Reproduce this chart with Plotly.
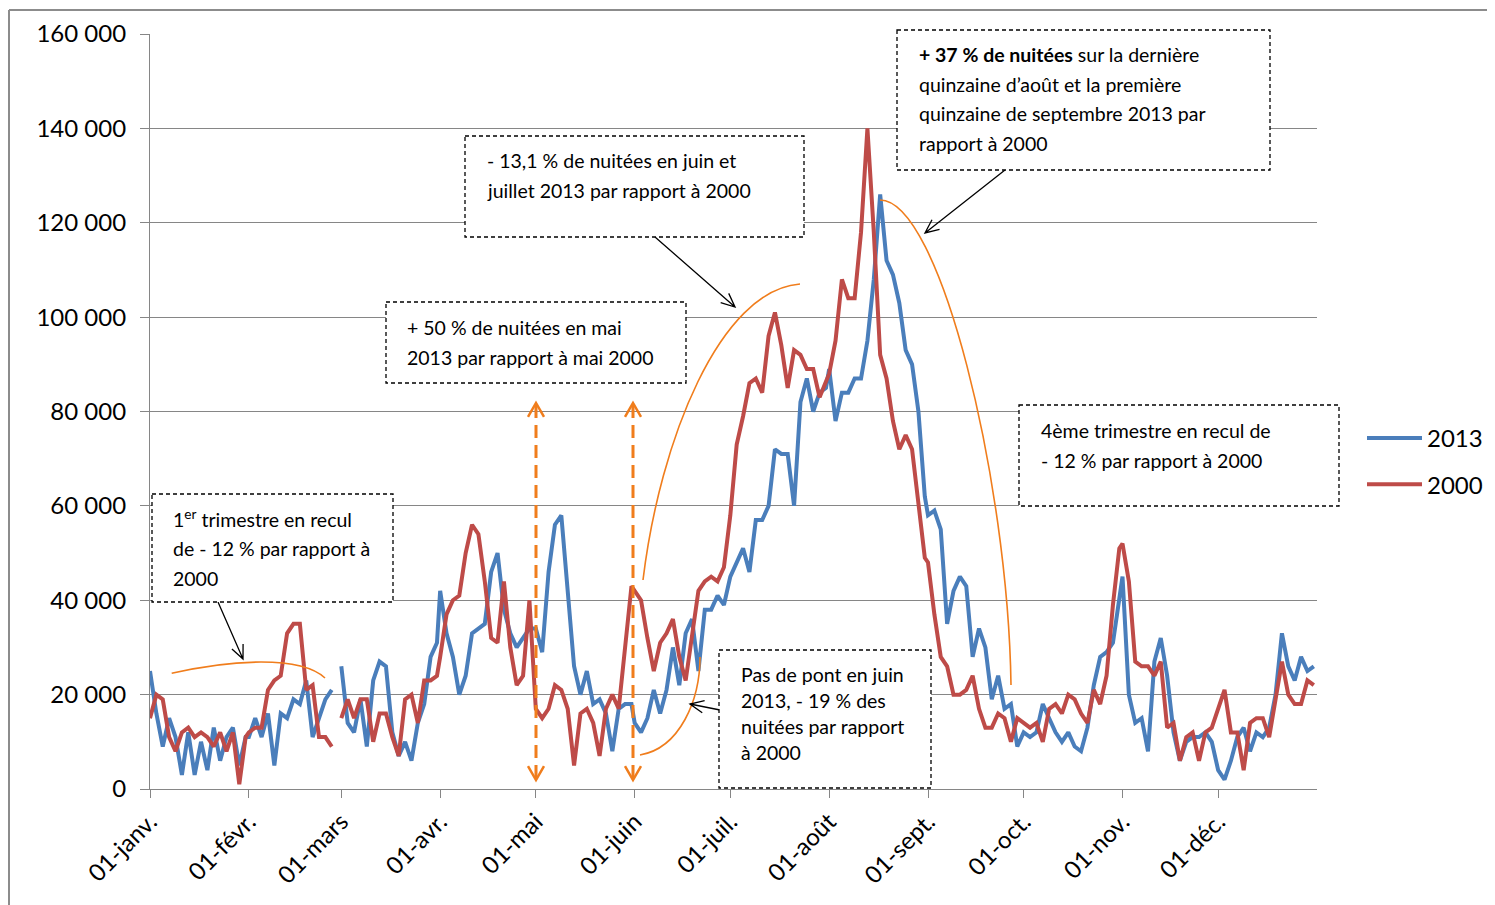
import math
import pandas as pd
import plotly.graph_objects as go

# ---------------- data (nuitées, one value every 2 days, odd days of the month) ----------------
months = ["janv.", "févr.", "mars", "avr.", "mai", "juin", "juil.", "août", "sept.", "oct.", "nov.", "déc."]
month_len = [31, 28, 31, 30, 31, 30, 31, 31, 30, 31, 30, 31]   # 29 févr. missing in the source

v2013_jan = [25000, 16000, 9000, 15000, 11000, 3000, 12000, 3000, 10000, 4000, 13000, 6000, 11000, 13000, 5000, 11000]
v2013_feb = [11000, 15000, 11000, 16000, 5000, 16000, 15000, 19000, 18000, 23000, 11000, 15000, 19000, 21000]
v2013_mar = [26000, 14000, 12000, 19000, 9000, 23000, 27000, 26000, 12000, 7000, 10000, 6000, 14000, 18000, 28000, 31000]
v2013_apr = [42000, 33000, 28000, 20000, 24000, 33000, 34000, 35000, 46000, 50000, 38000, 33000, 30000, 32000, 34000]
v2013_may = [34000, 29000, 46000, 56000, 58000, 42000, 26000, 20000, 25000, 18000, 19000, 16000, 8000, 17000, 18000, 18000]
v2013_jun = [14000, 12000, 15000, 21000, 16000, 21000, 30000, 22000, 33000, 36000, 25000, 38000, 38000, 41000, 39000]
v2013_jul = [45000, 48000, 51000, 46000, 57000, 57000, 60000, 72000, 71000, 71000, 60000, 82000, 87000, 80000, 84000, 85000]
v2013_aug = [89000, 78000, 84000, 84000, 87000, 87000, 95000, 108000, 126000, 112000, 109000, 103000, 93000, 90000, 80000, 62000]
v2013_sep = [58000, 59000, 55000, 35000, 42000, 45000, 43000, 28000, 34000, 30000, 19000, 24000, 17000, 18000, 9000]
v2013_oct = [12000, 11000, 12000, 18000, 15000, 12000, 10000, 12000, 9000, 8000, 13000, 22000, 28000, 29000, 31000, 40000]
v2013_nov = [45000, 20000, 14000, 15000, 8000, 27000, 32000, 24000, 12000, 6000, 10000, 11000, 11000, 12000, 10000]
v2013_dec = [4000, 2000, 6000, 11000, 13000, 8000, 12000, 11000, 13000, 20000, 33000, 26000, 23000, 28000, 25000, 26000]

v2000_jan = [15000, 20000, 19000, 11000, 8000, 12000, 13000, 11000, 12000, 11000, 9000, 12000, 8000, 12000, 1000, 11000]
v2000_feb = [12000, 13000, 13000, 21000, 23000, 24000, 33000, 35000, 35000, 21000, 22000, 11000, 11000, 9000]
v2000_mar = [15000, 19000, 15000, 19000, 19000, 10000, 16000, 16000, 11000, 7000, 19000, 20000, 14000, 23000, 23000, 24000]
v2000_apr = [28000, 37000, 40000, 41000, 50000, 56000, 54000, 44000, 32000, 31000, 44000, 30000, 22000, 24000, 40000]
v2000_may = [17000, 15000, 17000, 22000, 21000, 17000, 5000, 16000, 17000, 14000, 7000, 17000, 20000, 17000, 30000, 43000]
v2000_jun = [42000, 40000, 32000, 25000, 31000, 33000, 36000, 28000, 23000, 33000, 42000, 44000, 45000, 44000, 47000]
v2000_jul = [58000, 73000, 79000, 86000, 87000, 84000, 96000, 101000, 94000, 85000, 93000, 92000, 89000, 89000, 83000, 86000]
v2000_aug = [88000, 95000, 108000, 104000, 104000, 118000, 140000, 118000, 92000, 87000, 78000, 72000, 75000, 72000, 60000, 49000]
v2000_sep = [48000, 37000, 28000, 26000, 20000, 20000, 21000, 24000, 17000, 13000, 13000, 16000, 15000, 10000, 15000]
v2000_oct = [14000, 13000, 14000, 10000, 17000, 18000, 16000, 20000, 19000, 16000, 14000, 21000, 18000, 24000, 39000, 51000]
v2000_nov = [52000, 44000, 27000, 26000, 26000, 24000, 27000, 13000, 14000, 6000, 11000, 12000, 6000, 12000, 13000]
v2000_dec = [17000, 21000, 12000, 12000, 4000, 14000, 15000, 15000, 11000, 19000, 27000, 20000, 18000, 18000, 23000, 22000]

y_tickvals = [0, 20000, 40000, 60000, 80000, 100000, 120000, 140000, 160000]
y_ticktext = ["0", "20 000", "40 000", "60 000", "80 000", "100 000", "120 000", "140 000", "160 000"]

s2013 = [v2013_jan, v2013_feb, v2013_mar, v2013_apr, v2013_may, v2013_jun,
         v2013_jul, v2013_aug, v2013_sep, v2013_oct, v2013_nov, v2013_dec]
s2000 = [v2000_jan, v2000_feb, v2000_mar, v2000_apr, v2000_may, v2000_jun,
         v2000_jul, v2000_aug, v2000_sep, v2000_oct, v2000_nov, v2000_dec]


def build(series):
    xs, ys = [], []
    for m, vals in enumerate(series):
        days = list(range(1, month_len[m] + 1, 2))
        for d, v in zip(days, vals):
            xs.append(f"2000-{m + 1:02d}-{d:02d}")
            ys.append(v)
        if m == 1:  # gap (29 févr.)
            xs.append("2000-02-29")
            ys.append(None)
    return xs, ys


x13, y13 = build(s2013)
x00, y00 = build(s2000)

BLUE = "#4A7EBB"
RED = "#BE4B48"
ORANGE = "#F07D1C"
GRID = "#868686"
FONT = "Lato"

fig = go.Figure()
fig.add_trace(go.Scatter(x=x13, y=y13, mode="lines", name="2013", legendgroup="a",
                         line=dict(color=BLUE, width=4), connectgaps=False))
fig.add_trace(go.Scatter(x=x00, y=y00, mode="lines", name="2000", legendgroup="b",
                         line=dict(color=RED, width=4), connectgaps=False))

# ---------------- layout geometry (screen pixels; page body has an 8px margin) ----------------
OFF = 8
W, H = 1495 - OFF, 905 - OFF
L, R, T, B = 150, 1317, 34, 789


def px(x):
    return (x - L) / (R - L)


def py(y):
    return (B - y) / (B - T)


def P(x, y):
    return f"{px(x):.5f},{py(y):.5f}"


shapes = []
annotations = []

# outer frame
shapes.append(dict(type="line", xref="paper", yref="paper", x0=px(9), x1=px(9), y0=py(10), y1=py(910),
                   line=dict(color="#8C8C8C", width=2), layer="above"))
shapes.append(dict(type="line", xref="paper", yref="paper", x0=px(9), x1=px(1500), y0=py(10), y1=py(10),
                   line=dict(color="#8C8C8C", width=2), layer="above"))


def vhead(tx, ty, fx, fy, length, ang):
    dx, dy = fx - tx, fy - ty
    n = math.hypot(dx, dy)
    ux, uy = dx / n, dy / n
    a = math.radians(ang)
    p1 = (tx + length * (ux * math.cos(a) - uy * math.sin(a)), ty + length * (ux * math.sin(a) + uy * math.cos(a)))
    p2 = (tx + length * (ux * math.cos(-a) - uy * math.sin(-a)), ty + length * (ux * math.sin(-a) + uy * math.cos(-a)))
    return f"M{P(*p1)} L{P(tx, ty)} L{P(*p2)}"


def arrow(x1, y1, x2, y2, color="black", width=1.3):
    path = f"M{P(x1, y1)} L{P(x2, y2)} " + vhead(x2, y2, x1, y1, 15, 24)
    shapes.append(dict(type="path", xref="paper", yref="paper", path=path,
                       line=dict(color=color, width=width), layer="above"))


# orange curves
curves = [
    [(171.7, 673.3), (230, 660), (300, 655), (325, 678)],
    [(643, 580), (660, 440), (720, 290), (800, 284)],
    [(880, 200), (940, 200), (1008, 480), (1011, 685)],
    [(640, 755), (680, 748), (700, 700), (700, 657)],
]
for c in curves:
    path = f"M{P(*c[0])} C{P(*c[1])} {P(*c[2])} {P(*c[3])}"
    shapes.append(dict(type="path", xref="paper", yref="paper", path=path,
                       line=dict(color=ORANGE, width=1.6), layer="above"))

# orange dashed double arrows (1 mai, 1 juin)
for xv in [536, 633]:
    shapes.append(dict(type="line", xref="paper", yref="paper", x0=px(xv), x1=px(xv), y0=py(405), y1=py(778),
                       line=dict(color=ORANGE, width=3, dash="13px,7px"), layer="above"))
    for (tx, ty, fy) in [(xv, 403, 430), (xv, 780, 750)]:
        shapes.append(dict(type="path", xref="paper", yref="paper", path=vhead(tx, ty, tx, fy, 16, 30),
                           line=dict(color=ORANGE, width=2.5), layer="above"))

# black arrows
arrow(218, 602, 243, 659)
arrow(655, 237, 735, 307)
arrow(1005, 170, 925, 233)
arrow(720, 710, 690, 704)

# boxes with texts
boxes = [
    ((152, 494, 393, 602), 171, [518, 548, 578],
     ["1<sup>er</sup> trimestre en recul", "de - 12 % par rapport à", "2000"]),
    ((465, 136, 804, 237), 485, [160, 190],
     ["- 13,1 % de nuitées en juin et", "juillet 2013 par rapport à 2000"]),
    ((386, 302, 686, 383), 405, [327, 357],
     ["+ 50 % de nuitées en mai", "2013 par rapport à mai 2000"]),
    ((897, 30, 1270, 170), 917, [54, 84, 114, 144],
     ["<b>+ 37 % de nuitées</b> sur la dernière", "quinzaine d’août et la première",
      "quinzaine de septembre 2013 par", "rapport à 2000"]),
    ((1019, 405, 1339, 506), 1039, [430, 460],
     ["4ème trimestre en recul de", "- 12 % par rapport à 2000"]),
    ((719, 650, 931, 788), 739, [674, 700, 726, 752],
     ["Pas de pont en juin", "2013, - 19 % des", "nuitées par rapport", "à 2000"]),
]
for (x0, y0, x1, y1), tx, tys, lines in boxes:
    shapes.append(dict(type="rect", xref="paper", yref="paper", x0=px(x0), x1=px(x1), y0=py(y0), y1=py(y1),
                       line=dict(color="black", width=1.3, dash="4px,3px"), fillcolor="white", layer="above"))
    for ty, t in zip(tys, lines):
        annotations.append(dict(xref="paper", yref="paper", x=px(tx), y=py(ty), text=t, showarrow=False,
                                xanchor="left", yanchor="middle", align="left",
                                font=dict(family=FONT, size=19.5, color="black")))

month_ticks = [f"2000-{m + 1:02d}-01" for m in range(12)]
month_text = [f"01-{m}" for m in months]

fig.update_layout(
    width=W, height=H, autosize=False,
    margin=dict(l=L - OFF, r=W - (R - OFF), t=T - OFF, b=H - (B - OFF), autoexpand=False),
    paper_bgcolor="white", plot_bgcolor="white",
    font=dict(family=FONT, size=24, color="black"),
    showlegend=True,
    legend=dict(x=px(1362), y=py(416), xanchor="left", yanchor="top", traceorder="grouped",
                tracegroupgap=12, font=dict(family=FONT, size=24, color="black"),
                bgcolor="rgba(0,0,0,0)", itemwidth=55),
    xaxis=dict(type="date", range=["2000-01-01", "2001-01-01"], tickvals=month_ticks, ticktext=month_text,
               tickangle=-45, showgrid=False, showline=True, linecolor=GRID, linewidth=1.2,
               ticks="outside", ticklen=8, tickcolor=GRID, automargin=False, zeroline=False,
               tickfont=dict(family=FONT, size=24, color="black")),
    yaxis=dict(range=[0, 160000], tickvals=y_tickvals, ticktext=y_ticktext, showgrid=True,
               gridcolor=GRID, gridwidth=1.2, showline=True, linecolor=GRID, linewidth=1.2,
               ticks="outside", ticklen=9, tickcolor=GRID, automargin=False, zeroline=False,
               ticklabelstandoff=9, tickfont=dict(family=FONT, size=24, color="black")),
    shapes=shapes,
    annotations=annotations,
)

fig.write_html("out.html")
